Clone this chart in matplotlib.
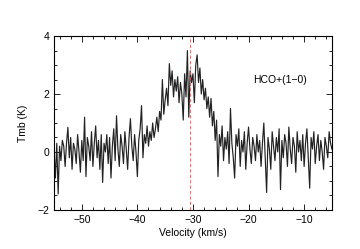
import numpy as np
import matplotlib
matplotlib.use("Agg")
from matplotlib import pyplot as plt
from matplotlib.ticker import MultipleLocator

plt.rcParams['font.family'] = ['Liberation Sans', 'DejaVu Sans']

# spectrum, channels every 0.25 km/s starting at -55
v0 = -55.0
dv = 0.25
tmb = [
    0.1, -0.9, 0.3, -1.45, 0.2, -0.3, 0.4, 0.2, -0.5, 0.3,
    0.85, -0.2, 0.5, -0.6, 0.3, 0.1, -0.4, 0.6, 0.0, -0.7,
    0.4, -0.3, 1.2, -0.85, 0.5, 0.2, -0.3, 0.7, -0.5, 0.3,
    0.9, -0.2, 0.4, -0.6, 0.6, -1.05, 0.3, 0.0, 0.6, -0.4,
    0.5, -0.9, 0.2, 0.8, -0.3, 1.25, 0.1, -0.5, 0.6, 0.2,
    -0.4, 0.7, 0.1, -0.6, 0.5, 1.15, 0.2, -0.3, 0.6, 0.0,
    -0.85, 0.4, 0.8, 1.6, -0.2, 0.6, 0.3, 0.9, 0.2, 0.7,
    0.4, 1.0, 0.5, 0.8, 1.2, 0.7, 1.4, 1.1, 2.5, 1.3,
    1.8, 2.2, 1.6, 3.05, 2.3, 2.8, 1.9, 2.5, 2.1, 2.6,
    1.7, 2.4, 2.0, 1.1, 2.7, 1.9, 3.5, 1.2, 2.8, 2.4,
    2.7, 1.7, 3.0, 3.35, 2.4, 2.9, 2.0, 2.5, 1.8, 2.2,
    1.5, 1.9, 1.2, 1.85, 0.9, 1.4, 0.4, 1.1, -0.85, 0.6,
    0.2, 0.9, -0.3, 0.5, 0.1, 0.7, -0.4, 1.5, 0.3, -0.2,
    -0.9, 0.6, 0.2, 0.8, -0.5, 0.4, 0.0, 0.7, -0.6, 0.3,
    0.86, 0.1, -0.4, 0.5, 0.2, -0.3, 0.6, 0.0, 0.4, -0.5,
    0.3, 1.0, -0.2, -1.4, 0.5, 0.1, -0.6, 0.7, 0.2, -0.3,
    0.5, 0.0, 0.8, -1.3, 0.4, -0.2, 0.6, 0.3, -0.5, 0.86,
    0.1, -0.4, 0.5, 0.2, -0.7, 0.7, 0.0, 0.4, -0.3, 0.6,
    -0.5, 0.3, 0.8, -0.2, -1.25, 0.5, 0.1, 0.7, -0.4, 0.2,
    0.6, -0.3, 0.4, 0.0, -0.6, 0.5, 0.2, -0.2, 0.7, 0.3,
    0.1,
]
v_sys = -30.5
label = "HCO+(1\u22120)"

tmb = np.array(tmb)
vel = v0 + dv * np.arange(len(tmb))

fig = plt.figure(figsize=(3.6, 2.49), dpi=100)
ax = fig.add_axes([0.15, 0.157, 0.772, 0.698])

ax.plot(vel, tmb, '-', c='#222222', lw=0.85)
ax.axvline(v_sys, color='#d86060', ls=(0, (4, 2.5)), lw=0.6)

ax.set_xlim(-55, -5)
ax.set_ylim(-2, 4)
ax.xaxis.set_major_locator(MultipleLocator(10))
ax.xaxis.set_minor_locator(MultipleLocator(2))
ax.yaxis.set_major_locator(MultipleLocator(2))
ax.yaxis.set_minor_locator(MultipleLocator(0.5))
ax.tick_params(which='both', direction='in', top=True, right=True,
               labelsize=7.5, width=0.6, pad=3.5)
ax.tick_params(which='major', length=4)
ax.tick_params(which='minor', length=2.5)
for s in ax.spines.values():
    s.set_linewidth(0.8)

ax.set_xlabel("Velocity (km/s)", fontsize=7.5, labelpad=2)
ax.set_ylabel("Tmb (K)", fontsize=7.5, labelpad=7)
ax.text(0.716, 0.747, label, transform=ax.transAxes, fontsize=7.5,
        va='center', ha='left')

fig.savefig("out.png", dpi=100)
